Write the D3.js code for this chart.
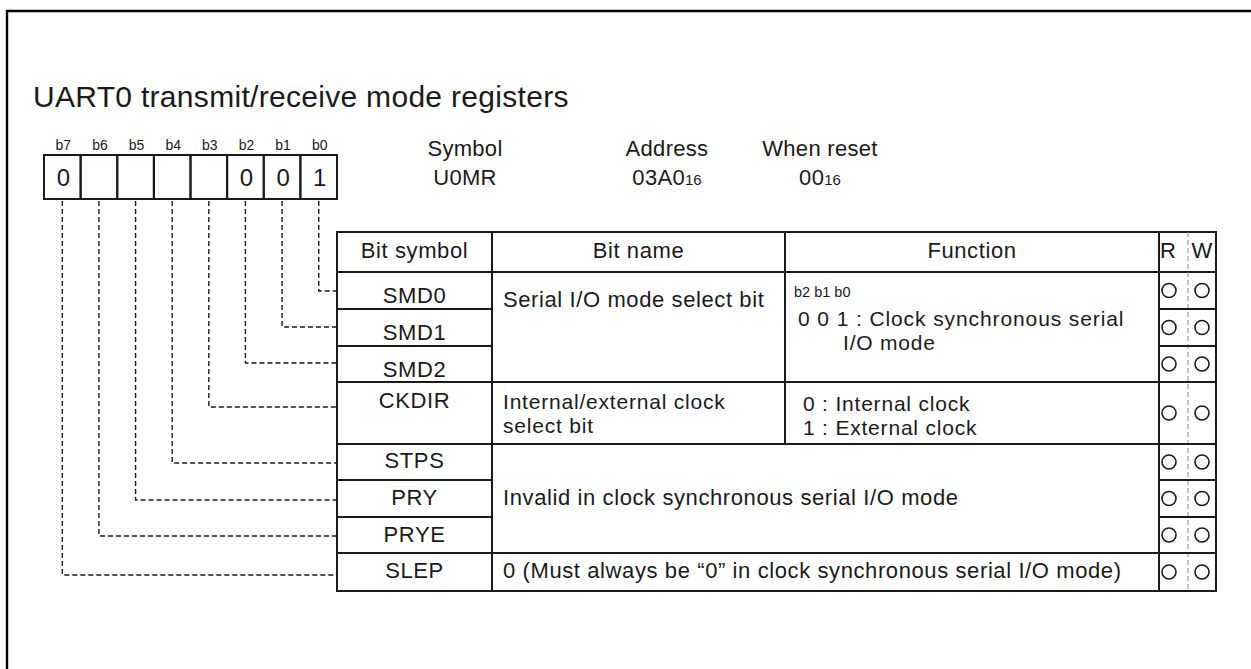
<!DOCTYPE html>
<html><head><meta charset="utf-8">
<script src="https://cdn.jsdelivr.net/npm/d3@7"></script>
<style>
html,body{margin:0;padding:0;background:#fff;}
svg{display:block;font-family:"Liberation Sans",Arial,Helvetica,sans-serif;}
</style></head>
<body>
<svg id="c" width="1251" height="669"></svg>
<script>
// ---- data ----
const title = "UART0 transmit/receive mode registers";
const bitLabels = ["b7","b6","b5","b4","b3","b2","b1","b0"];
const bitValues = ["0","","","","","0","0","1"];
const symbolInfo = ["Symbol","U0MR"];
const addressInfo = ["Address","03A0","16"];
const resetInfo = ["When reset","00","16"];
const headers = ["Bit symbol","Bit name","Function","R","W"];
const bitSymbols = ["SMD0","SMD1","SMD2","CKDIR","STPS","PRY","PRYE","SLEP"];
const symbolBit = ["b0","b1","b2","b3","b4","b5","b6","b7"];
const bitNames = [["Serial I/O mode select bit"],["Internal/external clock","select bit"],["Invalid in clock synchronous serial I/O mode"],["0 (Must always be \u201c0\u201d in clock synchronous serial I/O mode)"]];
const functions = [["b2 b1 b0","0 0 1 : Clock synchronous serial","I/O mode"],["0 : Internal clock","1 : External clock"],[],[]];
const groupRows = [[0,1,2],[3],[4,5,6],[7]];
const readable = [1,1,1,1,1,1,1,1];
const writable = [1,1,1,1,1,1,1,1];

// ---- layout ----
const svg = d3.select("#c");
const ink = "#1a1a1a";
const FS = 22, LS = 0.6;
function txt(g, x, y, s, opts){
  opts = opts || {};
  const t = g.append("text").attr("x",x).attr("y",y)
    .attr("font-size",opts.size||FS).attr("letter-spacing",opts.ls!==undefined?opts.ls:LS)
    .attr("fill",ink).text(s);
  if(opts.anchor) t.attr("text-anchor",opts.anchor);
  return t;
}
// frame
svg.append("path").attr("d","M7,680 L7,11 L1260,11").attr("fill","none").attr("stroke","#000").attr("stroke-width",2.4);

txt(svg,33,107,title,{size:30,ls:0.3});

// register boxes
const xb = d3.scaleBand().domain(bitLabels).range([44,337]).padding(0);
const boxTop = 155, boxBot = 199;
const reg = svg.append("g");
reg.selectAll("text.bl").data(bitLabels).join("text")
  .attr("x",d=>xb(d)+xb.bandwidth()/2+1).attr("y",150).attr("text-anchor","middle")
  .attr("font-size",14).attr("fill",ink).text(d=>d);
reg.selectAll("rect").data(bitLabels).join("rect")
  .attr("x",d=>xb(d)).attr("y",boxTop).attr("width",xb.bandwidth()).attr("height",boxBot-boxTop)
  .attr("fill","none").attr("stroke",ink).attr("stroke-width",2);
reg.selectAll("text.bv").data(bitValues).join("text")
  .attr("x",(d,i)=>xb(bitLabels[i])+xb.bandwidth()/2+1).attr("y",186).attr("text-anchor","middle")
  .attr("font-size",24).attr("fill",ink).text(d=>d);

// symbol / address / reset
function infoBlock(cx, info){
  const g = svg.append("g");
  txt(g,cx,156,info[0],{anchor:"middle",ls:0.3});
  const t = txt(g,cx,185,"",{anchor:"middle",ls:0.3});
  t.append("tspan").text(info[1]);
  if(info[2]) t.append("tspan").attr("font-size",15).attr("letter-spacing",0).text(info[2]);
}
infoBlock(465, symbolInfo);
infoBlock(667, addressInfo);
infoBlock(820, resetInfo);

// table geometry
const colX = [337,492,785,1159,1188,1216];
const heights = [37,37,36,62,36,37,36,38];
const tableTop = 232, headBot = 272;
const rowTops = []; let acc = headBot;
heights.forEach(h=>{rowTops.push(acc); acc+=h;});
const tableBot = acc;
const yTop = d3.scaleOrdinal().domain(bitSymbols).range(rowTops);
const yH = d3.scaleOrdinal().domain(bitSymbols).range(heights);

const tbl = svg.append("g");
const SW = 2;
tbl.append("rect").attr("x",colX[0]).attr("y",tableTop).attr("width",colX[5]-colX[0]).attr("height",tableBot-tableTop)
  .attr("fill","none").attr("stroke",ink).attr("stroke-width",SW);
tbl.append("line").attr("x1",colX[0]).attr("x2",colX[5]).attr("y1",headBot).attr("y2",headBot).attr("stroke",ink).attr("stroke-width",SW);
[colX[1],colX[3]].forEach(x=>tbl.append("line").attr("x1",x).attr("x2",x).attr("y1",tableTop).attr("y2",tableBot).attr("stroke",ink).attr("stroke-width",SW));
const g1 = groupRows[1];
tbl.append("line").attr("x1",colX[2]).attr("x2",colX[2]).attr("y1",tableTop)
  .attr("y2",yTop(bitSymbols[g1[0]])+yH(bitSymbols[g1[0]])).attr("stroke",ink).attr("stroke-width",SW);
tbl.append("line").attr("x1",colX[4]).attr("x2",colX[4]).attr("y1",tableTop).attr("y2",tableBot)
  .attr("stroke","#888").attr("stroke-width",1).attr("stroke-dasharray","5,3");
bitSymbols.slice(1).forEach(s=>{
  const y = yTop(s);
  tbl.append("line").attr("x1",colX[0]).attr("x2",colX[1]).attr("y1",y).attr("y2",y).attr("stroke",ink).attr("stroke-width",SW);
  tbl.append("line").attr("x1",colX[3]).attr("x2",colX[5]).attr("y1",y).attr("y2",y).attr("stroke",ink).attr("stroke-width",SW);
});
groupRows.slice(1).forEach(gr=>{
  const y = yTop(bitSymbols[gr[0]]);
  tbl.append("line").attr("x1",colX[1]).attr("x2",colX[3]).attr("y1",y).attr("y2",y).attr("stroke",ink).attr("stroke-width",SW);
});

// header texts
const hx = [(colX[0]+colX[1])/2,(colX[1]+colX[2])/2,(colX[2]+colX[3])/2,1168,1202];
headers.forEach((h,i)=>txt(tbl,hx[i],258,h,{anchor:"middle",ls:i>2?0:LS}));

// symbols
const symBase = [303,340,377,408,468,505,542,578];
bitSymbols.forEach((s,i)=>txt(tbl,hx[0],symBase[i],s,{anchor:"middle"}));

// bit names
const nameY = [[307],[409,433],[505],[578]];
bitNames.forEach((lines,gi)=>lines.forEach((l,li)=>txt(tbl,503,nameY[gi][li],l,{size:lines.length>1?21:FS,ls:lines.length>1?0.8:LS})));
// functions
txt(tbl,794,297,functions[0][0],{size:14.5,ls:0});
txt(tbl,798,326,functions[0][1],{size:21,ls:0.9});
txt(tbl,843,350,functions[0][2],{size:21,ls:0.8});
txt(tbl,803,411,functions[1][0],{size:21,ls:0.8});
txt(tbl,803,435,functions[1][1],{size:21,ls:0.8});

// R/W circles
bitSymbols.forEach((s,i)=>{
  const cy = yTop(s)+yH(s)/2;
  if(readable[i]) tbl.append("circle").attr("cx",1169).attr("cy",cy).attr("r",7).attr("fill","none").attr("stroke",ink).attr("stroke-width",1.6);
  if(writable[i]) tbl.append("circle").attr("cx",1202).attr("cy",cy).attr("r",7).attr("fill","none").attr("stroke",ink).attr("stroke-width",1.6);
});

// dashed connectors
const lineY = [291,327,363,407,463,500,536,575];
const conn = svg.append("g").attr("fill","none").attr("stroke",ink).attr("stroke-width",1.4).attr("stroke-dasharray","5,3");
bitSymbols.forEach((s,i)=>{
  const x = xb(symbolBit[i])+xb.bandwidth()/2;
  conn.append("path").attr("d",`M${x},${boxBot+2} L${x},${lineY[i]} L${colX[0]},${lineY[i]}`);
});
</script>
</body></html>
